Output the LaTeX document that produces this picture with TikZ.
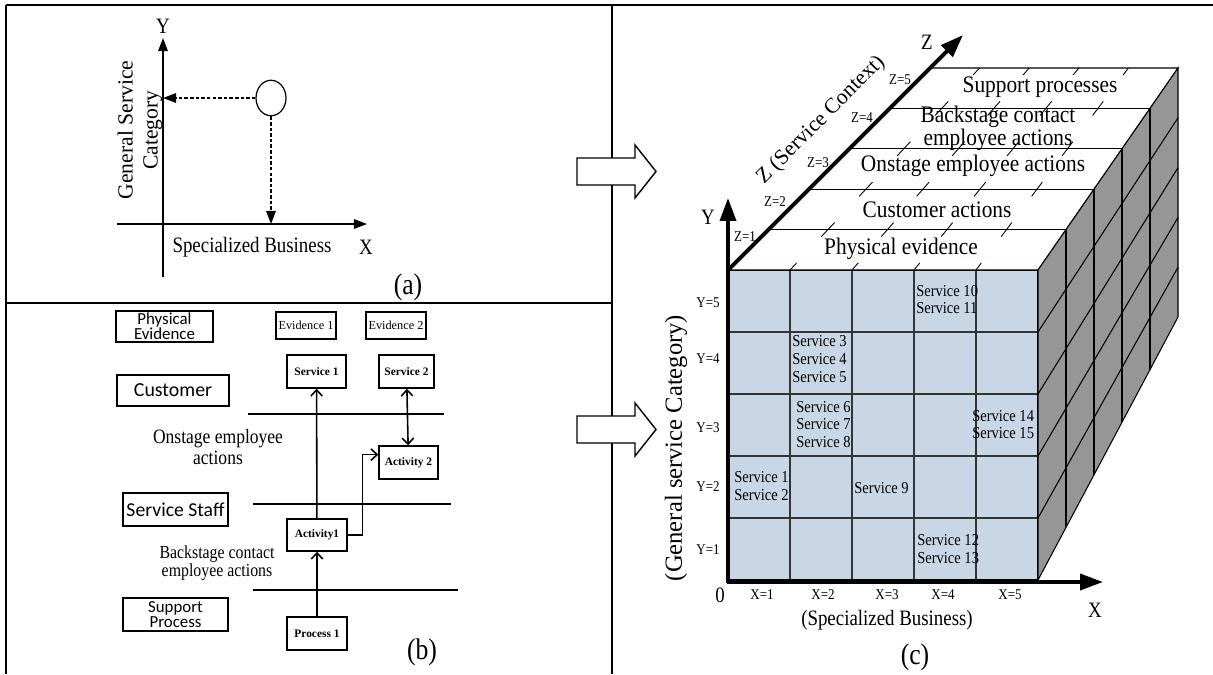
\documentclass[tikz,border=0pt]{standalone}
\usepackage{fontspec}
\setmainfont{Liberation Serif}
\newfontfamily\boxfont{Carlito}
\usetikzlibrary{arrows.meta,calc,shapes.geometric}
\definecolor{cellblue}{RGB}{201,214,230}
\definecolor{sidegray}{RGB}{150,150,150}

\begin{document}
\begin{tikzpicture}[x=0.02cm,y=-0.02cm,
  frame/.style={line width=1.3pt},
  txt/.style={font=\fontsize{12.5}{14}\selectfont,inner sep=0pt,align=center,xscale=.86},
  rtxt/.style={font=\fontsize{12.3}{14.2}\selectfont,inner sep=0pt,align=center},
  big/.style={font=\fontsize{13.5}{9.6}\selectfont,inner sep=0pt,align=center,xscale=.9},
  svc/.style={font=\fontsize{9.5}{10}\selectfont,inner sep=0pt,align=left,anchor=west,xscale=.87},
  idx/.style={font=\fontsize{8.5}{9}\selectfont,inner sep=0pt,xscale=.87},
  lane/.style={draw,line width=0.9pt,inner sep=0pt,align=center},
  act/.style={draw,line width=0.8pt,font=\fontsize{6.5}{7}\selectfont\bfseries,
    minimum width=1.2cm,minimum height=0.66cm,inner sep=0pt},
  evid/.style={draw,line width=0.8pt,font=\fontsize{7}{8}\selectfont,
    minimum width=1.2cm,minimum height=0.54cm,inner sep=0pt},
  barb/.tip={Straight Barb[length=3.5pt,width=6.5pt,line width=0.9pt]},
  flow/.style={line width=0.9pt,-barb},
  thin axis/.style={line width=0.7pt,-{Triangle[length=7.5pt,width=5.5pt]}},
  axis/.style={line width=2.2pt,-{Triangle[length=13pt,width=9pt]}}]
  \useasboundingbox (0,0) rectangle (1213,674);

  % frames
  \draw[frame] (6,5) -- (1213,5);
  \draw[frame] (6,5) -- (6,674);
  \draw[frame] (6,303) -- (612,303);
  \draw[frame] (612,5) -- (612,674);
  \foreach \m in {171.5,429.5}
    \draw[line width=0.8pt,fill=white] (577,\m-13.5) -- (635,\m-13.5) -- (635,\m-26.5)
      -- (656,\m) -- (635,\m+26.5) -- (635,\m+13.5) -- (577,\m+13.5) -- cycle;

  % (a)
  \coordinate (o) at (163,224);
  \draw[thin axis] (163,277) -- (163,38) node[txt,above=2pt] (ya) {Y};
  \draw[thin axis] (117,224) -- (367,224);
  \node[txt] (xa) at (366,247) {X};
  \node[txt] (busa) at (252,247) {Specialized Business};
  \node[rtxt,rotate=90] (cata) at (140,130) {General Service\\Category};
  \node[draw,ellipse,line width=0.7pt,minimum width=0.6cm,minimum height=0.71cm,inner sep=0pt] (pt) at (271,98) {};
  \draw[thin axis,dash pattern=on 2pt off 1.2pt] (pt.west) -- (pt.west -| o);
  \draw[thin axis,dash pattern=on 2pt off 1.2pt] (pt.south) -- (pt.south |- o);
  \node[txt,font=\fontsize{17}{18}\selectfont] (capa) at (408,287) {(a)};

  % (b)
  \node[lane,minimum width=1.94cm,minimum height=0.62cm,font=\boxfont\fontsize{9.6}{8.6}\selectfont] (pe) at (164.5,326.5) {Physical\\Evidence};
  \node[lane,minimum width=2.24cm,minimum height=0.62cm,font=\boxfont\fontsize{11.3}{12}\selectfont] (cu) at (173,390.5) {Customer};
  \node[lane,minimum width=2.1cm,minimum height=0.66cm,font=\boxfont\fontsize{11.2}{12}\selectfont] (st) at (175.5,509.5) {Service Staff};
  \node[lane,minimum width=2.1cm,minimum height=0.66cm,font=\boxfont\fontsize{9.6}{9}\selectfont] (sp) at (175.5,614.5) {Support\\Process};
  \node[evid] (e1) at (306,325.5) {Evidence 1};
  \node[evid] (e2) at (396,325.5) {Evidence 2};
  \node[act,minimum width=1.18cm] (s1) at (316.5,371.5) {Service 1};
  \node[act,minimum width=1.1cm] (s2) at (406.5,371.5) {Service 2};
  \node[act,minimum width=1.18cm] (a2) at (408.5,462.5) {Activity 2};
  \node[act,minimum height=0.64cm] (a1) at (317,535) {Activity1};
  \node[act] (p1) at (317,633.5) {Process 1};
  \draw[line width=1.2pt] (248,414) -- (444,414);
  \draw[line width=1.2pt] (253,504) -- (451,504);
  \draw[line width=1.2pt] (253,590) -- (458,590);
  \node[txt,font=\fontsize{11.6}{12}\selectfont] (on) at (218,447) {Onstage employee\\actions};
  \node[txt,font=\fontsize{10.5}{7.5}\selectfont] (bk) at (217,563) {Backstage contact\\employee actions};
  \draw[flow] (p1) -- (a1);
  \draw[flow] (a1) -- (s1);
  \draw[flow,barb-barb] (s2) -- (a2);
  \draw[flow] (a1.east) -- ++(15,0) |- ([yshift=4.5pt]a2.west);
  \node[txt,font=\fontsize{17}{18}\selectfont] (capb) at (422,652) {(b)};

  % (c)
  \fill[cellblue] (728,270) rectangle (1038,580);
  \foreach \i in {1,...,4} {
    \draw[line width=0.6pt,black!80] (728+62*\i,270) -- (728+62*\i,580);
    \draw[line width=0.6pt,black!80] (728,270+62*\i) -- (1038,270+62*\i);
  }
  \draw[line width=0.6pt] (728,270) rectangle (1038,580);
  \draw[line width=0.6pt,fill=white] (728,270) -- (930,68) -- (1178,68) -- (1038,270) -- cycle;
  \foreach \j in {1,...,4}
    \draw[line width=0.5pt] (728+40.4*\j,270-40.4*\j) -- (1038+28*\j,270-40.4*\j);
  \foreach \c in {1,...,4}
    \foreach \j in {0,...,5} {
      \pgfmathsetmacro\ta{max(0,\j/5-0.035)}
      \pgfmathsetmacro\tb{min(1,\j/5+0.035)}
      \draw[line width=0.5pt] ($(728+62*\c,270)!\ta!(930+49.6*\c,68)$) -- ($(728+62*\c,270)!\tb!(930+49.6*\c,68)$);
    }
  \draw[line width=0.6pt,fill=sidegray] (1038,270) -- (1178,68) -- (1178,317) -- (1038,580) -- cycle;
  \foreach \k in {1,...,4}
    \draw[line width=0.6pt] (1038+28*\k,270-40.4*\k) -- (1038+28*\k,580-52.6*\k);
  \foreach \i in {1,...,4}
    \draw[line width=0.6pt] (1038,270+62*\i) -- (1178,68+49.8*\i);

  \draw[axis] (728,583) -- (728,198);
  \draw[axis] (727,582) -- (1103,582);
  \draw[axis] (728,270) -- (963,35);
  \node[txt] (yc) at (708,217) {Y};
  \node[txt] (xc) at (1095,610) {X};
  \node[txt] (zc) at (927,42) {Z};
  \node[txt] (oc) at (720,595) {0};
  \node[rtxt,rotate=45] (zname) at (821,120) {Z (Service Context)};
  \node[rtxt,rotate=90,font=\fontsize{14}{15}\selectfont] (yname) at (676,448) {(General service Category)};
  \node[txt] (xname) at (887,620) {(Specialized Business)};
  \foreach \j/\px/\py in {1/745/237,2/775/202,3/818/163,4/862/118,5/900/80}
    \node[idx] (zl\j) at (\px,\py) {Z=\j};
  \foreach \i/\py in {5/303,4/359,3/428,2/487,1/550}
    \node[idx] (yl\i) at (708,\py) {Y=\i};
  \foreach \i/\px in {1/762,2/823,3/887,4/943,5/1010}
    \node[idx] (xl\i) at (\px,595) {X=\i};

  \node[big] (phys) at (901,249) {Physical evidence};
  \node[big] (cust) at (937,210) {Customer actions};
  \node[big] (onst) at (973,166) {Onstage employee actions};
  \node[big] (back) at (998,128) {Backstage contact\\employee actions};
  \node[big] (supp) at (1040,87) {Support processes};

  \node[svc] (sv10) at (916,299.5) {Service 10\\Service 11};
  \node[svc] (sv3) at (792,359) {Service 3\\Service 4\\Service 5};
  \node[svc] (sv6) at (796,424.5) {Service 6\\Service 7\\Service 8};
  \node[svc] (sv14) at (972,424.5) {Service 14\\Service 15};
  \node[svc] (sv1) at (734,486) {Service 1\\Service 2};
  \node[svc] (sv9) at (854,488) {Service 9};
  \node[svc] (sv12) at (917,549) {Service 12\\Service 13};
  \node[txt,font=\fontsize{17}{18}\selectfont] (capc) at (915,657) {(c)};
\end{tikzpicture}
\end{document}
